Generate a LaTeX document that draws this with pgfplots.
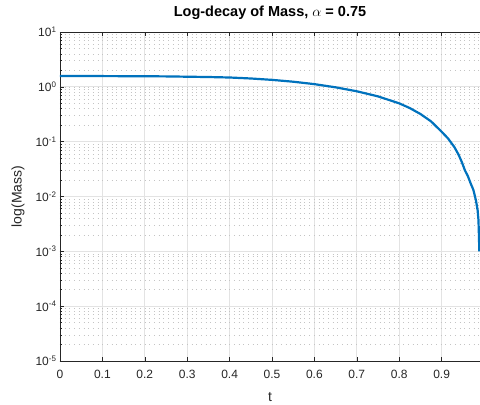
\documentclass[border=0pt]{standalone}
\usepackage{pgfplots}
\pgfplotsset{compat=1.18}
\usepackage{fontspec}
\setmainfont{Liberation Sans}
\definecolor{mblue}{rgb}{0,0.447,0.741}
\definecolor{axgray}{HTML}{262626}
\definecolor{majgrid}{HTML}{E3E3E3}
\definecolor{mingrid}{HTML}{C4C4C4}
\pgfplotstableread{
t m
0 1.57
0.1 1.57
0.2 1.56
0.25 1.55
0.3 1.53
0.35 1.51
0.4 1.48
0.45 1.42
0.5 1.34
0.55 1.24
0.6 1.12
0.65 0.98
0.7 0.83
0.75 0.67
0.8 0.50
0.825 0.41
0.85 0.32
0.875 0.235
0.9 0.152
0.915 0.115
0.93 0.080
0.94 0.058
0.948 0.042
0.955 0.030
0.962 0.0235
0.969 0.017
0.975 0.0132
0.981 0.0085
0.985 0.0056
0.987 0.0037
0.988 0.0020
0.989 0.0010
}\datatable
\begin{document}
\begin{tikzpicture}
\begin{axis}[
  scale only axis,
  width=420pt, height=329pt,
  ymode=log,
  xmin=0, xmax=0.9906,
  ymin=1e-5, ymax=10,
  axis x line=box,
  axis y line*=left,
  axis line style={axgray, line width=0.6pt},
  xtick={0,0.1,...,0.9},
  ytick={1e-5,1e-4,1e-3,1e-2,1e-1,1,10},
  yticklabels={10\textsuperscript{-5},10\textsuperscript{-4},10\textsuperscript{-3},10\textsuperscript{-2},10\textsuperscript{-1},10\textsuperscript{0},10\textsuperscript{1}},
  /pgf/number format/assume math mode=true,
  xticklabel style={/pgf/number format/fixed, /pgf/number format/precision=1, yshift=-6pt},
  tick label style={font=\fontsize{12}{14}\selectfont, text=axgray},
  tick style={axgray, line width=0.5pt},
  major tick length=4pt,
  minor tick length=2pt,
  xmajorgrids, ymajorgrids, yminorgrids,
  major grid style={majgrid, line width=0.7pt},
  minor grid style={mingrid, dash pattern=on 0.8pt off 3.9pt, line width=0.6pt},
  title={\fontsize{14.5}{16}\selectfont\bfseries Log-decay of Mass, $\alpha$ = 0.75},
  title style={at={(axis description cs:0.5,1)}, anchor=center, yshift=13pt},
  xlabel={t}, ylabel={log(Mass)},
  label style={font=\fontsize{14}{16}\selectfont, text=axgray},
  xlabel style={at={(axis description cs:0.5,0)}, anchor=center, yshift=-36pt},
  ylabel style={at={(axis description cs:0,0.5)}, anchor=center, yshift=42pt},
]
\addplot[mblue, line width=2.2pt] table[x=t, y=m] {\datatable};
\end{axis}
\pgfresetboundingbox
\path[use as bounding box] ([shift={(-60pt,-43pt)}]current axis.south west) rectangle ([shift={(0pt,32pt)}]current axis.north east);
\end{tikzpicture}
\end{document}
